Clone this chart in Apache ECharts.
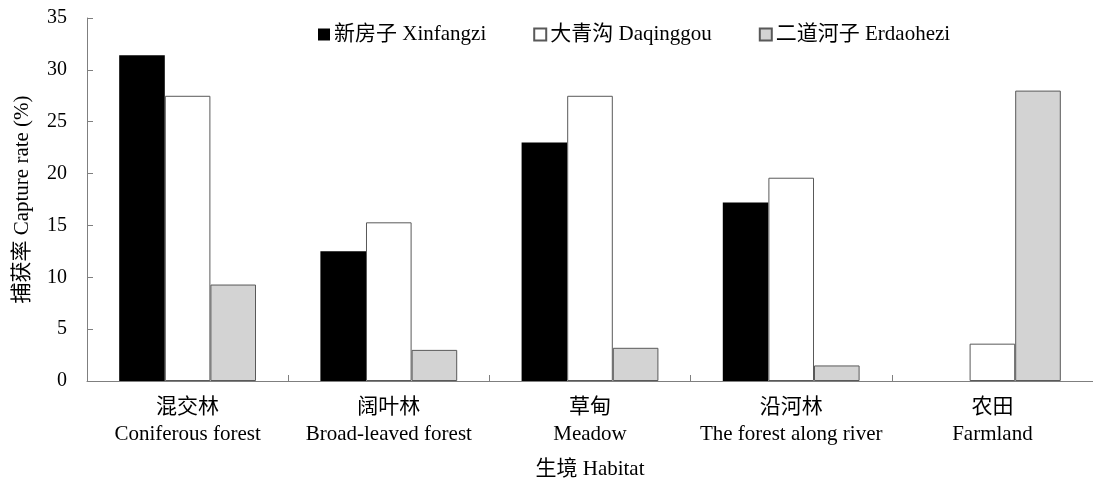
<!DOCTYPE html>
<html>
<head>
<meta charset="utf-8">
<script src="https://cdn.jsdelivr.net/npm/echarts@6/dist/echarts.min.js"></script>
<style>
  html, body { margin: 0; padding: 0; background: #fff; }
  #main { width: 1093px; height: 487px; }
</style>
</head>
<body>
<div id="main"></div>
<script>
/*######## 数据 ########*/
var habitats = ["混交林\nConiferous forest", "阔叶林\nBroad-leaved forest", "草甸\nMeadow", "沿河林\nThe forest along river", "农田\nFarmland"];
var siteNames = ["新房子 Xinfangzi", "大青沟 Daqinggou", "二道河子 Erdaohezi"];
var xinfangzi = [31.4, 12.5, 23.0, 17.2, 0];
var daqinggou = [27.5, 15.3, 27.5, 19.6, 3.6];
var erdaohezi = [9.3, 3.0, 3.2, 1.5, 28.0];
var yTicks = { min: 0, max: 35, interval: 5 };

var font = "'Liberation Serif', 'Noto Sans CJK SC', serif";
var axisGray = "#7f7f7f";

var myChart = echarts.init(document.getElementById("main"));
var option = {
  animation: false,
  textStyle: { fontFamily: font, color: "#000" },
  grid: { left: 87, right: 0, top: 18, bottom: 106, containLabel: false },
  legend: {
    top: 19,
    left: 313,
    icon: "rect",
    itemWidth: 12,
    itemHeight: 12,
    itemGap: 47,
    textStyle: { fontFamily: font, fontSize: 21, color: "#000", padding: [0, 0, 0, -1] },
    data: siteNames
  },
  xAxis: {
    type: "category",
    data: habitats,
    name: "生境 Habitat",
    nameLocation: "middle",
    nameGap: 78,
    nameTextStyle: { fontFamily: font, fontSize: 21, color: "#000" },
    axisLine: { lineStyle: { color: axisGray, width: 1 } },
    axisTick: { show: true, inside: true, length: 6, lineStyle: { color: axisGray } },
    axisLabel: { fontFamily: font, fontSize: 21, color: "#000", lineHeight: 27, margin: 13, interval: 0 },
    splitLine: { show: false }
  },
  yAxis: {
    type: "value",
    min: yTicks.min,
    max: yTicks.max,
    interval: yTicks.interval,
    name: "捕获率 Capture rate (%)",
    nameLocation: "middle",
    nameGap: 54,
    nameRotate: 90,
    nameTextStyle: { fontFamily: font, fontSize: 21, color: "#000" },
    axisLine: { show: true, lineStyle: { color: axisGray, width: 1 } },
    axisTick: { show: true, inside: true, length: 6, lineStyle: { color: axisGray } },
    axisLabel: { fontFamily: font, fontSize: 20, color: "#000", margin: 20 },
    splitLine: { show: false }
  },
  series: [
    {
      name: siteNames[0],
      type: "bar",
      barGap: "0%",
      barCategoryGap: "32%",
      itemStyle: { color: "#000", borderWidth: 0 },
      data: xinfangzi
    },
    {
      name: siteNames[1],
      type: "bar",
      barGap: "0%",
      barCategoryGap: "32%",
      itemStyle: { color: "#fff", borderColor: "#595959", borderWidth: 1 },
      data: daqinggou
    },
    {
      name: siteNames[2],
      type: "bar",
      barGap: "0%",
      barCategoryGap: "32%",
      itemStyle: { color: "#d3d3d3", borderColor: "#595959", borderWidth: 1 },
      data: erdaohezi
    }
  ]
};
if (option && typeof option === "object") {
  myChart.setOption(option, true);
}
</script>
</body>
</html>
